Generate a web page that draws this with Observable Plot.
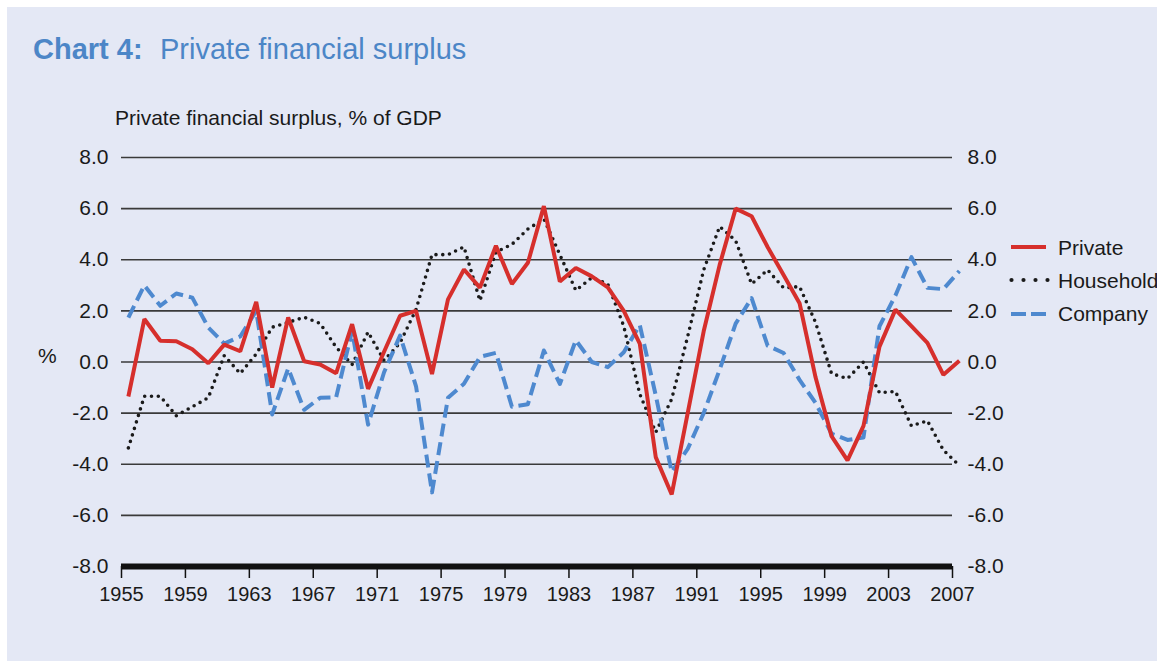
<!DOCTYPE html>
<html>
<head>
<meta charset="utf-8">
<script src="https://cdn.jsdelivr.net/npm/d3@7"></script>
<script src="https://cdn.jsdelivr.net/npm/@observablehq/plot@0.6"></script>
<style>
  html, body { margin: 0; padding: 0; background: #ffffff; }
  body { width: 1157px; height: 667px; position: relative; overflow: hidden;
         font-family: "Liberation Sans", Arial, Helvetica, sans-serif; }
  #panel { position: absolute; left: 7px; top: 7px; width: 1150px; height: 654px; background: #e4e8f5; }
  .t { position: absolute; line-height: 1; white-space: nowrap; }
  #title1 { left: 33px; top: 35px; font-size: 29px; font-weight: bold; color: #4c86c7; }
  #title2 { left: 160px; top: 35px; font-size: 29px; color: #4c86c7; }
  #subtitle { left: 115px; top: 107px; font-size: 21px; color: #1a1a1a; }
  #pct { left: 38px; top: 345px; font-size: 21px; color: #1a1a1a; }
  #chart { position: absolute; left: 0; top: 140px; }
  #legend { position: absolute; left: 1009px; top: 235px; }
  .row { display: flex; align-items: center; height: 24px; margin-bottom: 9.4px; }
  .row svg { display: block; margin-right: 8px; }
  .row span { font-size: 21px; line-height: 1; color: #1a1a1a; white-space: nowrap; }
</style>
</head>
<body>
<div id="panel"></div>
<div class="t" id="title1">Chart 4:</div>
<div class="t" id="title2">Private financial surplus</div>
<div class="t" id="subtitle">Private financial surplus, % of GDP</div>
<div class="t" id="pct">%</div>
<div id="chart"></div>
<div id="legend"></div>
<script>
// ---- data ----
const years = [1955,1956,1957,1958,1959,1960,1961,1962,1963,1964,
               1965,1966,1967,1968,1969,1970,1971,1972,1973,1974,
               1975,1976,1977,1978,1979,1980,1981,1982,1983,1984,
               1985,1986,1987,1988,1989,1990,1991,1992,1993,1994,
               1995,1996,1997,1998,1999,2000,2001,2002,2003,2004,
               2005,2006,2007];
const privateSurplus = [-1.35,1.68,0.83,0.81,0.5,-0.05,0.68,0.42,2.35,-1.0,
               1.74,0.03,-0.1,-0.44,1.48,-1.05,0.4,1.81,2.0,-0.47,
               2.45,3.62,2.91,4.55,3.05,3.88,6.1,3.15,3.68,3.35,
               2.92,2.0,0.72,-3.72,-5.18,-2.0,1.2,3.8,6.0,5.7,
               4.5,3.4,2.3,-0.6,-2.9,-3.85,-2.5,0.6,2.05,1.4,
               0.75,-0.5,0.05];
const householdSurplus = [-3.36,-1.34,-1.34,-2.1,-1.75,-1.4,0.25,-0.45,0.31,1.36,
               1.55,1.75,1.51,0.58,-0.1,1.17,0.06,0.75,2.05,4.2,
               4.2,4.5,2.4,4.3,4.6,5.2,5.6,4.2,2.8,3.3,
               3.05,1.4,-1.25,-2.75,-1.45,1.0,3.6,5.3,4.75,3.05,
               3.6,2.9,2.95,1.55,-0.45,-0.65,0.0,-1.2,-1.15,-2.5,
               -2.3,-3.45,-4.05];
const companySurplus = [1.74,3.0,2.2,2.68,2.52,1.35,0.72,1.0,2.0,-2.05,
               -0.25,-1.87,-1.4,-1.38,1.22,-2.45,-0.4,1.03,-0.95,-5.1,
               -1.4,-0.85,0.2,0.36,-1.75,-1.65,0.45,-0.86,0.85,0.0,
               -0.2,0.38,1.45,-1.3,-4.3,-3.4,-2.0,-0.3,1.5,2.5,
               0.64,0.35,-0.7,-1.6,-2.8,-3.05,-2.95,1.4,2.6,4.1,
               2.9,2.85,3.56];
const xTickYears = [1955,1959,1963,1967,1971,1975,1979,1983,1987,1991,1995,1999,2003,2007];
const yTickValues = [-8,-6,-4,-2,0,2,4,6,8];
const seriesNames = ["Private","Household","Company"];

// ---- styles ----
const styles = {
  Private:   {stroke: "#d62f2c", strokeWidth: 4, strokeDasharray: null, strokeLinecap: "butt"},
  Household: {stroke: "#1a1a1a", strokeWidth: 3.6, strokeDasharray: "0 6.8", strokeLinecap: "round"},
  Company:   {stroke: "#4e89cf", strokeWidth: 4, strokeDasharray: "13 6", strokeLinecap: "butt"}
};
const legendLines = {
  Private:   {x1: 2, x2: 37, dash: ""},
  Household: {x1: 2.5, x2: 39, dash: "0 12", width: 4.2},
  Company:   {x1: 2, x2: 37, dash: "15 5"}
};
const MID_YEAR = 0.43; // annual values plotted within each year

const table = years.map((y, i) => ({
  year: y,
  Private: privateSurplus[i],
  Household: householdSurplus[i],
  Company: companySurplus[i]
}));

const fmt = d => d.toFixed(1);
const lineFor = name => Plot.line(table, {
  x: d => d.year + MID_YEAR, y: name,
  stroke: styles[name].stroke, strokeWidth: styles[name].strokeWidth,
  strokeDasharray: styles[name].strokeDasharray, strokeLinecap: styles[name].strokeLinecap,
  strokeLinejoin: name === "Private" ? "miter" : "round"
});

const chart = Plot.plot({
  width: 1157, height: 480,
  marginLeft: 121, marginRight: 205, marginTop: 17, marginBottom: 54,
  style: {background: "transparent", fontFamily: "'Liberation Sans', Arial, sans-serif", color: "#1a1a1a", overflow: "visible"},
  x: {domain: [1955, 2007], label: null},
  y: {domain: [-8, 8], label: null},
  marks: [
    Plot.ruleY(yTickValues.filter(v => v > -8), {stroke: "#3a3a3a", strokeWidth: 1.6}),
    Plot.axisY({anchor: "left", ticks: yTickValues, tickSize: 0, tickPadding: 13, tickFormat: fmt, fontSize: 21, label: null}),
    Plot.axisY({anchor: "right", ticks: yTickValues, tickSize: 0, tickPadding: 15, tickFormat: fmt, fontSize: 21, label: null}),
    Plot.axisX({ticks: xTickYears, tickSize: 12, tickPadding: 8, tickFormat: d => String(d),
                fontSize: 20, fontFamily: "'Liberation Sans Narrow', 'Liberation Sans', Arial, sans-serif",
                stroke: "#111", strokeWidth: 1.5, label: null}),
    Plot.ruleY([-8], {stroke: "#111", strokeWidth: 6}),
    lineFor("Household"),
    lineFor("Company"),
    lineFor("Private")
  ]
});
document.getElementById("chart").appendChild(chart);

// ---- legend ----
const legend = document.getElementById("legend");
for (const name of seriesNames) {
  const s = styles[name];
  const L = legendLines[name];
  const row = document.createElement("div");
  row.className = "row";
  const dash = L.dash ? `stroke-dasharray="${L.dash}"` : "";
  row.innerHTML = `<svg width="41" height="12"><line x1="${L.x1}" y1="6" x2="${L.x2}" y2="6" stroke="${s.stroke}" stroke-width="${L.width || s.strokeWidth}" stroke-linecap="${s.strokeLinecap}" ${dash}/></svg><span>${name}</span>`;
  legend.appendChild(row);
}
</script>
</body>
</html>
